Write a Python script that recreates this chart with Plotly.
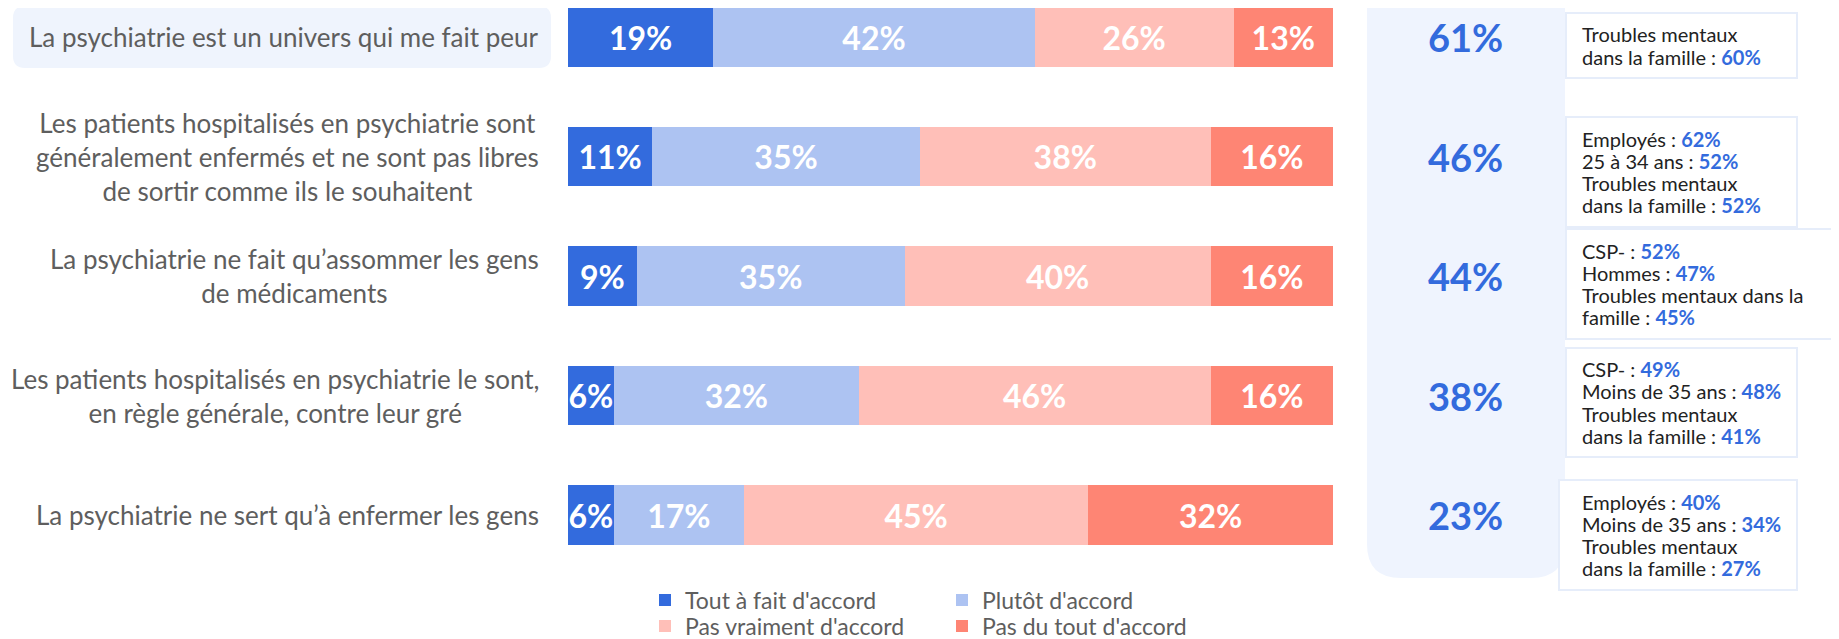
import plotly.graph_objects as go

W, H = 1839, 680
OFF = 8  # page body margin compensation

categories = [
    "La psychiatrie est un univers qui me fait peur",
    "Les patients hospitalisés en psychiatrie sont<br>généralement enfermés et ne sont pas libres<br>de sortir comme ils le souhaitent",
    "La psychiatrie ne fait qu’assommer les gens<br>de médicaments",
    "Les patients hospitalisés en psychiatrie le sont,<br>en règle générale, contre leur gré",
    "La psychiatrie ne sert qu’à enfermer les gens",
]
series_names = ["Tout à fait d'accord", "Plutôt d'accord", "Pas vraiment d'accord", "Pas du tout d'accord"]
tout_a_fait = [19, 11, 9, 6, 6]
plutot = [42, 35, 35, 32, 17]
pas_vraiment = [26, 38, 40, 46, 45]
pas_du_tout = [13, 16, 16, 16, 32]
totals = [61, 46, 44, 38, 23]

notes = [
    [("Troubles mentaux<br>dans la famille", 60)],
    [("Employés", 62), ("25 à 34 ans", 52), ("Troubles mentaux<br>dans la famille", 52)],
    [("CSP-", 52), ("Hommes", 47), ("Troubles mentaux dans la<br>famille", 45)],
    [("CSP-", 49), ("Moins de 35 ans", 48), ("Troubles mentaux<br>dans la famille", 41)],
    [("Employés", 40), ("Moins de 35 ans", 34), ("Troubles mentaux<br>dans la famille", 27)],
]

colors = ["#336BDD", "#ADC3F2", "#FFBFB8", "#FE8574"]
BLUE = "#336BDD"
FONT = "Lato"


def px(p):
    return (p - OFF) / W


def py(p):
    return 1 - (p - OFF) / H


def rounded_path(x0, y0, x1, y1, r_tl, r_tr, r_br, r_bl):
    pts = []
    pts.append(f"M{px(x0 + r_tl)},{py(y0)}")
    pts.append(f"L{px(x1 - r_tr)},{py(y0)}")
    if r_tr:
        pts.append(f"Q{px(x1)},{py(y0)} {px(x1)},{py(y0 + r_tr)}")
    pts.append(f"L{px(x1)},{py(y1 - r_br)}")
    if r_br:
        pts.append(f"Q{px(x1)},{py(y1)} {px(x1 - r_br)},{py(y1)}")
    pts.append(f"L{px(x0 + r_bl)},{py(y1)}")
    if r_bl:
        pts.append(f"Q{px(x0)},{py(y1)} {px(x0)},{py(y1 - r_bl)}")
    pts.append(f"L{px(x0)},{py(y0 + r_tl)}")
    if r_tl:
        pts.append(f"Q{px(x0)},{py(y0)} {px(x0 + r_tl)},{py(y0)}")
    pts.append("Z")
    return " ".join(pts)


fig = go.Figure()
all_series = [tout_a_fait, plutot, pas_vraiment, pas_du_tout]
for i, (name, vals) in enumerate(zip(series_names, all_series)):
    fig.add_trace(go.Bar(
        y=categories, x=vals, name=name, orientation="h",
        marker=dict(color=colors[i], line=dict(width=0)),
        width=0.5,
        text=[f"{v}%" for v in vals], textposition="inside", textangle=0,
        insidetextanchor="middle", constraintext="none",
        textfont=dict(family=FONT, size=32, color="white", weight="bold"),
        hoverinfo="skip",
        legend="legend" if i < 2 else "legend2",
    ))

# y mapping: category 0 at reference pixel 37, spacing 119.5 px
step = 119.5
ytop = -(37 - OFF) / step
ybot = ytop + H / step

shapes = []
shapes.append(dict(type="path", xref="paper", yref="paper",
                   path=rounded_path(13, 6, 551, 68, 12, 12, 12, 12),
                   fillcolor="#EFF4FD", line=dict(width=0), layer="below"))
shapes.append(dict(type="path", xref="paper", yref="paper",
                   path=rounded_path(1367, -20, 1565, 578, 0, 0, 34, 34),
                   fillcolor="#EFF4FE", line=dict(width=0), layer="below"))
boxes = [(1566, 13, 1797, 78), (1566, 117, 1797, 227), (1566, 229, 1860, 339),
         (1566, 348, 1797, 457), (1559, 480, 1797, 590)]
for (x0, y0, x1, y1) in boxes:
    shapes.append(dict(type="rect", xref="paper", yref="paper",
                       x0=px(x0), x1=px(x1), y0=py(y1), y1=py(y0),
                       fillcolor="white", line=dict(color="#E6EDFA", width=2), layer="below"))

annotations = []
for i, cat in enumerate(categories):
    annotations.append(dict(x=px(541), xref="paper", y=i, yref="y", text=cat,
                            showarrow=False, xanchor="right", yanchor="middle", align="center",
                            font=dict(family=FONT, size=26, color="#5E5E5E")))
    annotations.append(dict(x=px(1465), xref="paper", y=i, yref="y", text=f"<b>{totals[i]}%</b>",
                            showarrow=False, xanchor="center", yanchor="middle",
                            font=dict(family=FONT, size=38, color=BLUE)))

LINE = 22.3
for note, (x0, y0, x1, y1) in zip(notes, boxes):
    lines = []
    for lab, val in note:
        parts = lab.split("<br>")
        for p in parts[:-1]:
            lines.append(p)
        lines.append(f"{parts[-1]} : <b><span style='color:{BLUE}'>{val}%</span></b>")
    yc = (y0 + y1) / 2
    n = len(lines)
    for k, txt in enumerate(lines):
        yy = yc + (k - (n - 1) / 2) * LINE
        annotations.append(dict(x=px(1580), xref="paper", y=py(yy), yref="paper",
                                text=txt, showarrow=False, xanchor="left",
                                yanchor="middle", align="left",
                                font=dict(family=FONT, size=20, color="#222222")))

legend_common = dict(orientation="h", xanchor="left", yanchor="middle", entrywidth=252,
                     bgcolor="rgba(0,0,0,0)", font=dict(family=FONT, size=23, color="#5E5E5E"),
                     traceorder="normal", itemclick=False, itemdoubleclick=False)

fig.update_layout(
    width=W, height=H,
    margin=dict(l=0, r=0, t=0, b=0),
    paper_bgcolor="white", plot_bgcolor="white",
    barmode="stack",
    showlegend=True,
    xaxis=dict(domain=[px(568), px(1333)], range=[0, 100], visible=False, fixedrange=True),
    yaxis=dict(type="category", range=[ybot, ytop], visible=False, fixedrange=True),
    shapes=shapes,
    annotations=annotations,
    legend=dict(x=px(645), y=py(600), **legend_common),
    legend2=dict(x=px(645), y=py(626), **legend_common),
    font=dict(family=FONT),
)

fig.write_html("out.html")
